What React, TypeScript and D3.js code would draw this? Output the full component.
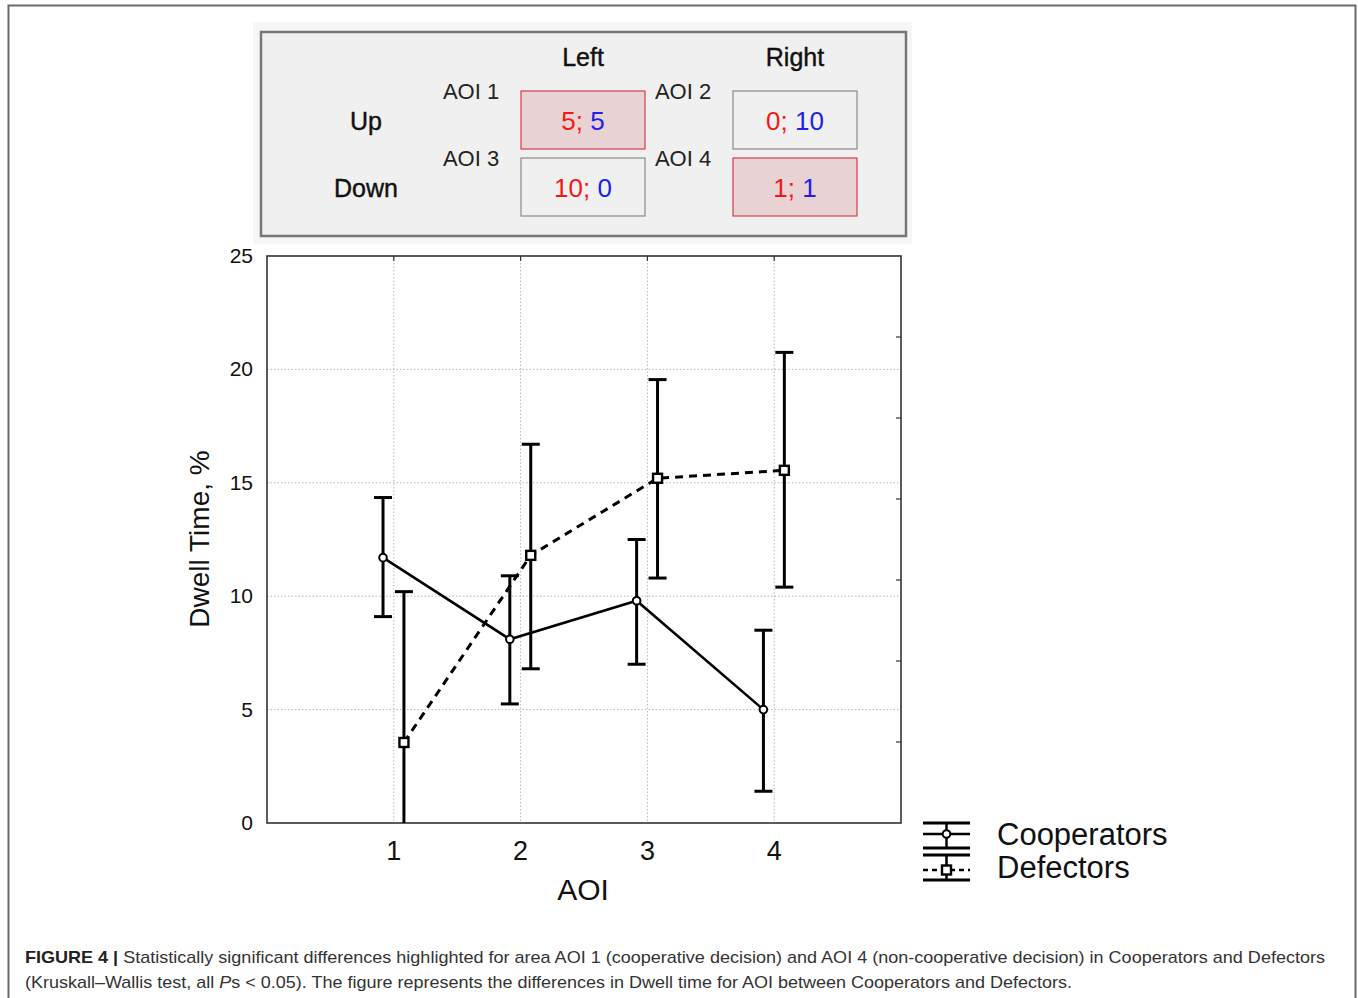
import React, { useRef, useEffect } from "react";
import * as d3 from "d3";

// chart data
const aoi = [1, 2, 3, 4];
const coopMean = [11.7, 8.1, 9.8, 5.0];
const coopUpper = [14.35, 10.9, 12.5, 8.5];
const coopLower = [9.1, 5.25, 7.0, 1.4];
const defMean = [3.55, 11.8, 15.2, 15.55];
const defUpper = [10.2, 16.7, 19.55, 20.75];
const defLower = [-3.1, 6.8, 10.8, 10.4];
const yTicks = [0, 5, 10, 15, 20, 25];

// decision table above the chart
const tableCols = ["Left", "Right"];
const tableRows = ["Up", "Down"];
const aoiNames = ["AOI 1", "AOI 2", "AOI 3", "AOI 4"];
const redCounts = [5, 0, 10, 1];
const blueCounts = [5, 10, 0, 1];
const highlighted = [true, false, false, true];

const FONT = "'Liberation Sans', Arial, sans-serif";

const App = () => {
  const container = useRef<SVGSVGElement>(null);

  const width = 1358;
  const height = 998;
  const plot = { left: 267, top: 256, right: 901, bottom: 823 };

  useEffect(() => {
    const svg = d3.select(container.current);
    svg.selectAll("*").remove();

    // outer frame
    svg.append("path")
      .attr("d", `M8.5,${height} V5.5 H1355.5 V${height}`)
      .attr("fill", "none")
      .attr("stroke", "#6a6a6a")
      .attr("stroke-width", 2);

    // ---- table ----
    const tbl = svg.append("g");
    tbl.append("rect").attr("x", 253).attr("y", 22).attr("width", 659).attr("height", 222).attr("fill", "#f6f6f6");
    tbl.append("rect").attr("x", 261).attr("y", 32).attr("width", 645).attr("height", 204)
      .attr("fill", "#f0f0f0").attr("stroke", "#777").attr("stroke-width", 2.5);

    const colX = d3.scalePoint<string>().domain(tableCols).range([583, 795]);
    const rowY = d3.scalePoint<string>().domain(tableRows).range([120, 187]);

    tbl.selectAll(".colhead").data(tableCols).enter().append("text")
      .attr("x", d => colX(d)!).attr("y", 66)
      .attr("text-anchor", "middle").attr("font-family", FONT).attr("font-size", 25)
      .attr("fill", "#111").attr("stroke", "#111").attr("stroke-width", 0.4).text(d => d);
    tbl.selectAll(".rowhead").data(tableRows).enter().append("text")
      .attr("x", 366).attr("y", d => rowY(d)! + 10)
      .attr("text-anchor", "middle").attr("font-family", FONT).attr("font-size", 25)
      .attr("fill", "#111").attr("stroke", "#111").attr("stroke-width", 0.4).text(d => d);

    aoiNames.forEach((name, i) => {
      const c = tableCols[i % 2];
      const r = tableRows[Math.floor(i / 2)];
      const cx = colX(c)!;
      const cy = rowY(r)!;
      tbl.append("text")
        .attr("x", cx - 112).attr("y", cy - 21)
        .attr("text-anchor", "middle").attr("font-family", FONT).attr("font-size", 22)
        .attr("fill", "#222").text(name);
      tbl.append("rect")
        .attr("x", cx - 62).attr("y", cy - 29).attr("width", 124).attr("height", 58)
        .attr("fill", highlighted[i] ? "#e9d2d3" : "#f0f0f0")
        .attr("stroke", highlighted[i] ? "#d0404c" : "#8a8a8a")
        .attr("stroke-width", 1.2);
      const t = tbl.append("text")
        .attr("x", cx).attr("y", cy + 10)
        .attr("text-anchor", "middle").attr("font-family", FONT).attr("font-size", 26);
      t.append("tspan").attr("fill", "#f01818").text(`${redCounts[i]}; `);
      t.append("tspan").attr("fill", "#2020e8").text(`${blueCounts[i]}`);
    });

    // ---- chart ----
    const x = d3.scaleLinear().domain([0, 5]).range([plot.left, plot.right]);
    const y = d3.scaleLinear().domain([0, 25]).range([plot.bottom, plot.top]);
    const yRight = d3.scaleLinear().domain([0, 7]).range([plot.bottom, plot.top]);

    const chart = svg.append("g");
    chart.append("defs").append("clipPath").attr("id", "plotClip")
      .append("rect").attr("x", plot.left).attr("y", plot.top)
      .attr("width", plot.right - plot.left).attr("height", plot.bottom - plot.top);

    // grid
    chart.selectAll(".vgrid").data(aoi).enter().append("line")
      .attr("x1", d => x(d)).attr("x2", d => x(d))
      .attr("y1", plot.top).attr("y2", plot.bottom)
      .attr("stroke", "#b8b8b8").attr("stroke-width", 1).attr("stroke-dasharray", "1.5,2");
    chart.selectAll(".hgrid").data(yTicks.slice(1, -1)).enter().append("line")
      .attr("x1", plot.left).attr("x2", plot.right)
      .attr("y1", d => y(d)).attr("y2", d => y(d))
      .attr("stroke", "#b8b8b8").attr("stroke-width", 1).attr("stroke-dasharray", "1.5,2");

    // frame + inner ticks
    chart.append("rect").attr("x", plot.left).attr("y", plot.top)
      .attr("width", plot.right - plot.left).attr("height", plot.bottom - plot.top)
      .attr("fill", "none").attr("stroke", "#333").attr("stroke-width", 1.6);
    chart.selectAll(".rtick").data(d3.range(1, 7)).enter().append("line")
      .attr("x1", plot.right - 5).attr("x2", plot.right)
      .attr("y1", d => yRight(d)).attr("y2", d => yRight(d))
      .attr("stroke", "#333").attr("stroke-width", 1.2);
    chart.selectAll(".ttick").data(aoi).enter().append("line")
      .attr("x1", d => x(d)).attr("x2", d => x(d))
      .attr("y1", plot.top).attr("y2", plot.top + 5)
      .attr("stroke", "#333").attr("stroke-width", 1.2);

    // axis labels
    chart.selectAll(".ylab").data(yTicks).enter().append("text")
      .attr("x", 253).attr("y", d => y(d) + 7)
      .attr("text-anchor", "end").attr("font-family", FONT).attr("font-size", 21)
      .attr("fill", "#111").text(d => d);
    chart.selectAll(".xlab").data(aoi).enter().append("text")
      .attr("x", d => x(d)).attr("y", 860)
      .attr("text-anchor", "middle").attr("font-family", FONT).attr("font-size", 27)
      .attr("fill", "#111").text(d => d);
    chart.append("text")
      .attr("x", 583).attr("y", 900)
      .attr("text-anchor", "middle").attr("font-family", FONT).attr("font-size", 30)
      .attr("fill", "#111").text("AOI");
    chart.append("text")
      .attr("transform", "translate(209,539) rotate(-90)")
      .attr("text-anchor", "middle").attr("font-family", FONT).attr("font-size", 28)
      .attr("fill", "#111").text("Dwell Time, %");

    const series = [
      { mean: coopMean, upper: coopUpper, lower: coopLower, off: -0.085, dash: null, marker: "circle" },
      { mean: defMean, upper: defUpper, lower: defLower, off: 0.08, dash: "8,6", marker: "square" },
    ];

    const data = chart.append("g").attr("clip-path", "url(#plotClip)");
    const markers = chart.append("g");

    series.forEach(s => {
      const pts = aoi.map((a, i) => ({ a: a + s.off, m: s.mean[i], u: s.upper[i], l: s.lower[i] }));
      // error bars
      pts.forEach(p => {
        data.append("line")
          .attr("x1", x(p.a)).attr("x2", x(p.a)).attr("y1", y(p.u)).attr("y2", y(p.l))
          .attr("stroke", "#000").attr("stroke-width", 3);
        [p.u, p.l].forEach(v => {
          data.append("line")
            .attr("x1", x(p.a) - 9).attr("x2", x(p.a) + 9).attr("y1", y(v)).attr("y2", y(v))
            .attr("stroke", "#000").attr("stroke-width", 3);
        });
      });
      // mean line
      const line = d3.line<any>().x(d => x(d.a)).y(d => y(d.m));
      data.append("path").datum(pts)
        .attr("d", line)
        .attr("fill", "none").attr("stroke", "#000")
        .attr("stroke-width", s.dash ? 3 : 2.6)
        .attr("stroke-dasharray", s.dash);
      // markers
      if (s.marker === "circle") {
        markers.selectAll(null).data(pts).enter().append("circle")
          .attr("cx", d => x(d.a)).attr("cy", d => y(d.m)).attr("r", 3.8)
          .attr("fill", "#fff").attr("stroke", "#000").attr("stroke-width", 2);
      } else {
        markers.selectAll(null).data(pts).enter().append("rect")
          .attr("x", d => x(d.a) - 4.5).attr("y", d => y(d.m) - 4.5)
          .attr("width", 9).attr("height", 9)
          .attr("fill", "#fff").attr("stroke", "#000").attr("stroke-width", 2.4);
      }
    });

    // legend
    const lg = svg.append("g");
    const lx0 = 923, lx1 = 970, lxm = 946.5;
    const legendRows = [
      { name: "Cooperators", top: 823, mid: 834, bot: 848, dash: null, marker: "circle", ty: 845 },
      { name: "Defectors", top: 855, mid: 870, bot: 880, dash: "5,4", marker: "square", ty: 878 },
    ];
    legendRows.forEach(r => {
      [r.top, r.bot].forEach(v => {
        lg.append("line").attr("x1", lx0).attr("x2", lx1).attr("y1", v).attr("y2", v)
          .attr("stroke", "#000").attr("stroke-width", 3);
      });
      lg.append("line").attr("x1", lxm).attr("x2", lxm).attr("y1", r.top).attr("y2", r.bot)
        .attr("stroke", "#000").attr("stroke-width", 2.5);
      lg.append("line").attr("x1", lx0).attr("x2", lx1).attr("y1", r.mid).attr("y2", r.mid)
        .attr("stroke", "#000").attr("stroke-width", 2.6).attr("stroke-dasharray", r.dash);
      if (r.marker === "circle") {
        lg.append("circle").attr("cx", lxm).attr("cy", r.mid).attr("r", 3.8)
          .attr("fill", "#fff").attr("stroke", "#000").attr("stroke-width", 2);
      } else {
        lg.append("rect").attr("x", lxm - 4.5).attr("y", r.mid - 4.5).attr("width", 9).attr("height", 9)
          .attr("fill", "#fff").attr("stroke", "#000").attr("stroke-width", 2.4);
      }
      lg.append("text").attr("x", 997).attr("y", r.ty)
        .attr("font-family", FONT).attr("font-size", 31).attr("fill", "#111").text(r.name);
    });

    // caption
    const cap1 = svg.append("text")
      .attr("x", 25).attr("y", 963)
      .attr("font-family", FONT).attr("font-size", 17).attr("fill", "#333")
      .attr("textLength", 1300).attr("lengthAdjust", "spacingAndGlyphs");
    cap1.append("tspan").attr("font-weight", "bold").attr("fill", "#222").text("FIGURE 4 | ");
    cap1.append("tspan").text("Statistically significant differences highlighted for area AOI 1 (cooperative decision) and AOI 4 (non-cooperative decision) in Cooperators and Defectors");

    const cap2 = svg.append("text")
      .attr("x", 25).attr("y", 988)
      .attr("font-family", FONT).attr("font-size", 17).attr("fill", "#333")
      .attr("textLength", 1047).attr("lengthAdjust", "spacingAndGlyphs");
    cap2.append("tspan").text("(Kruskall–Wallis test, all ");
    cap2.append("tspan").attr("font-style", "italic").text("P");
    cap2.append("tspan").text("s < 0.05). The figure represents the differences in Dwell time for AOI between Cooperators and Defectors.");
  }, []);

  return (
    <svg
      ref={container}
      width={width}
      height={height}
      style={{ position: "absolute", left: 0, top: 0, background: "#fff" }}
    />
  );
};

export default App;
